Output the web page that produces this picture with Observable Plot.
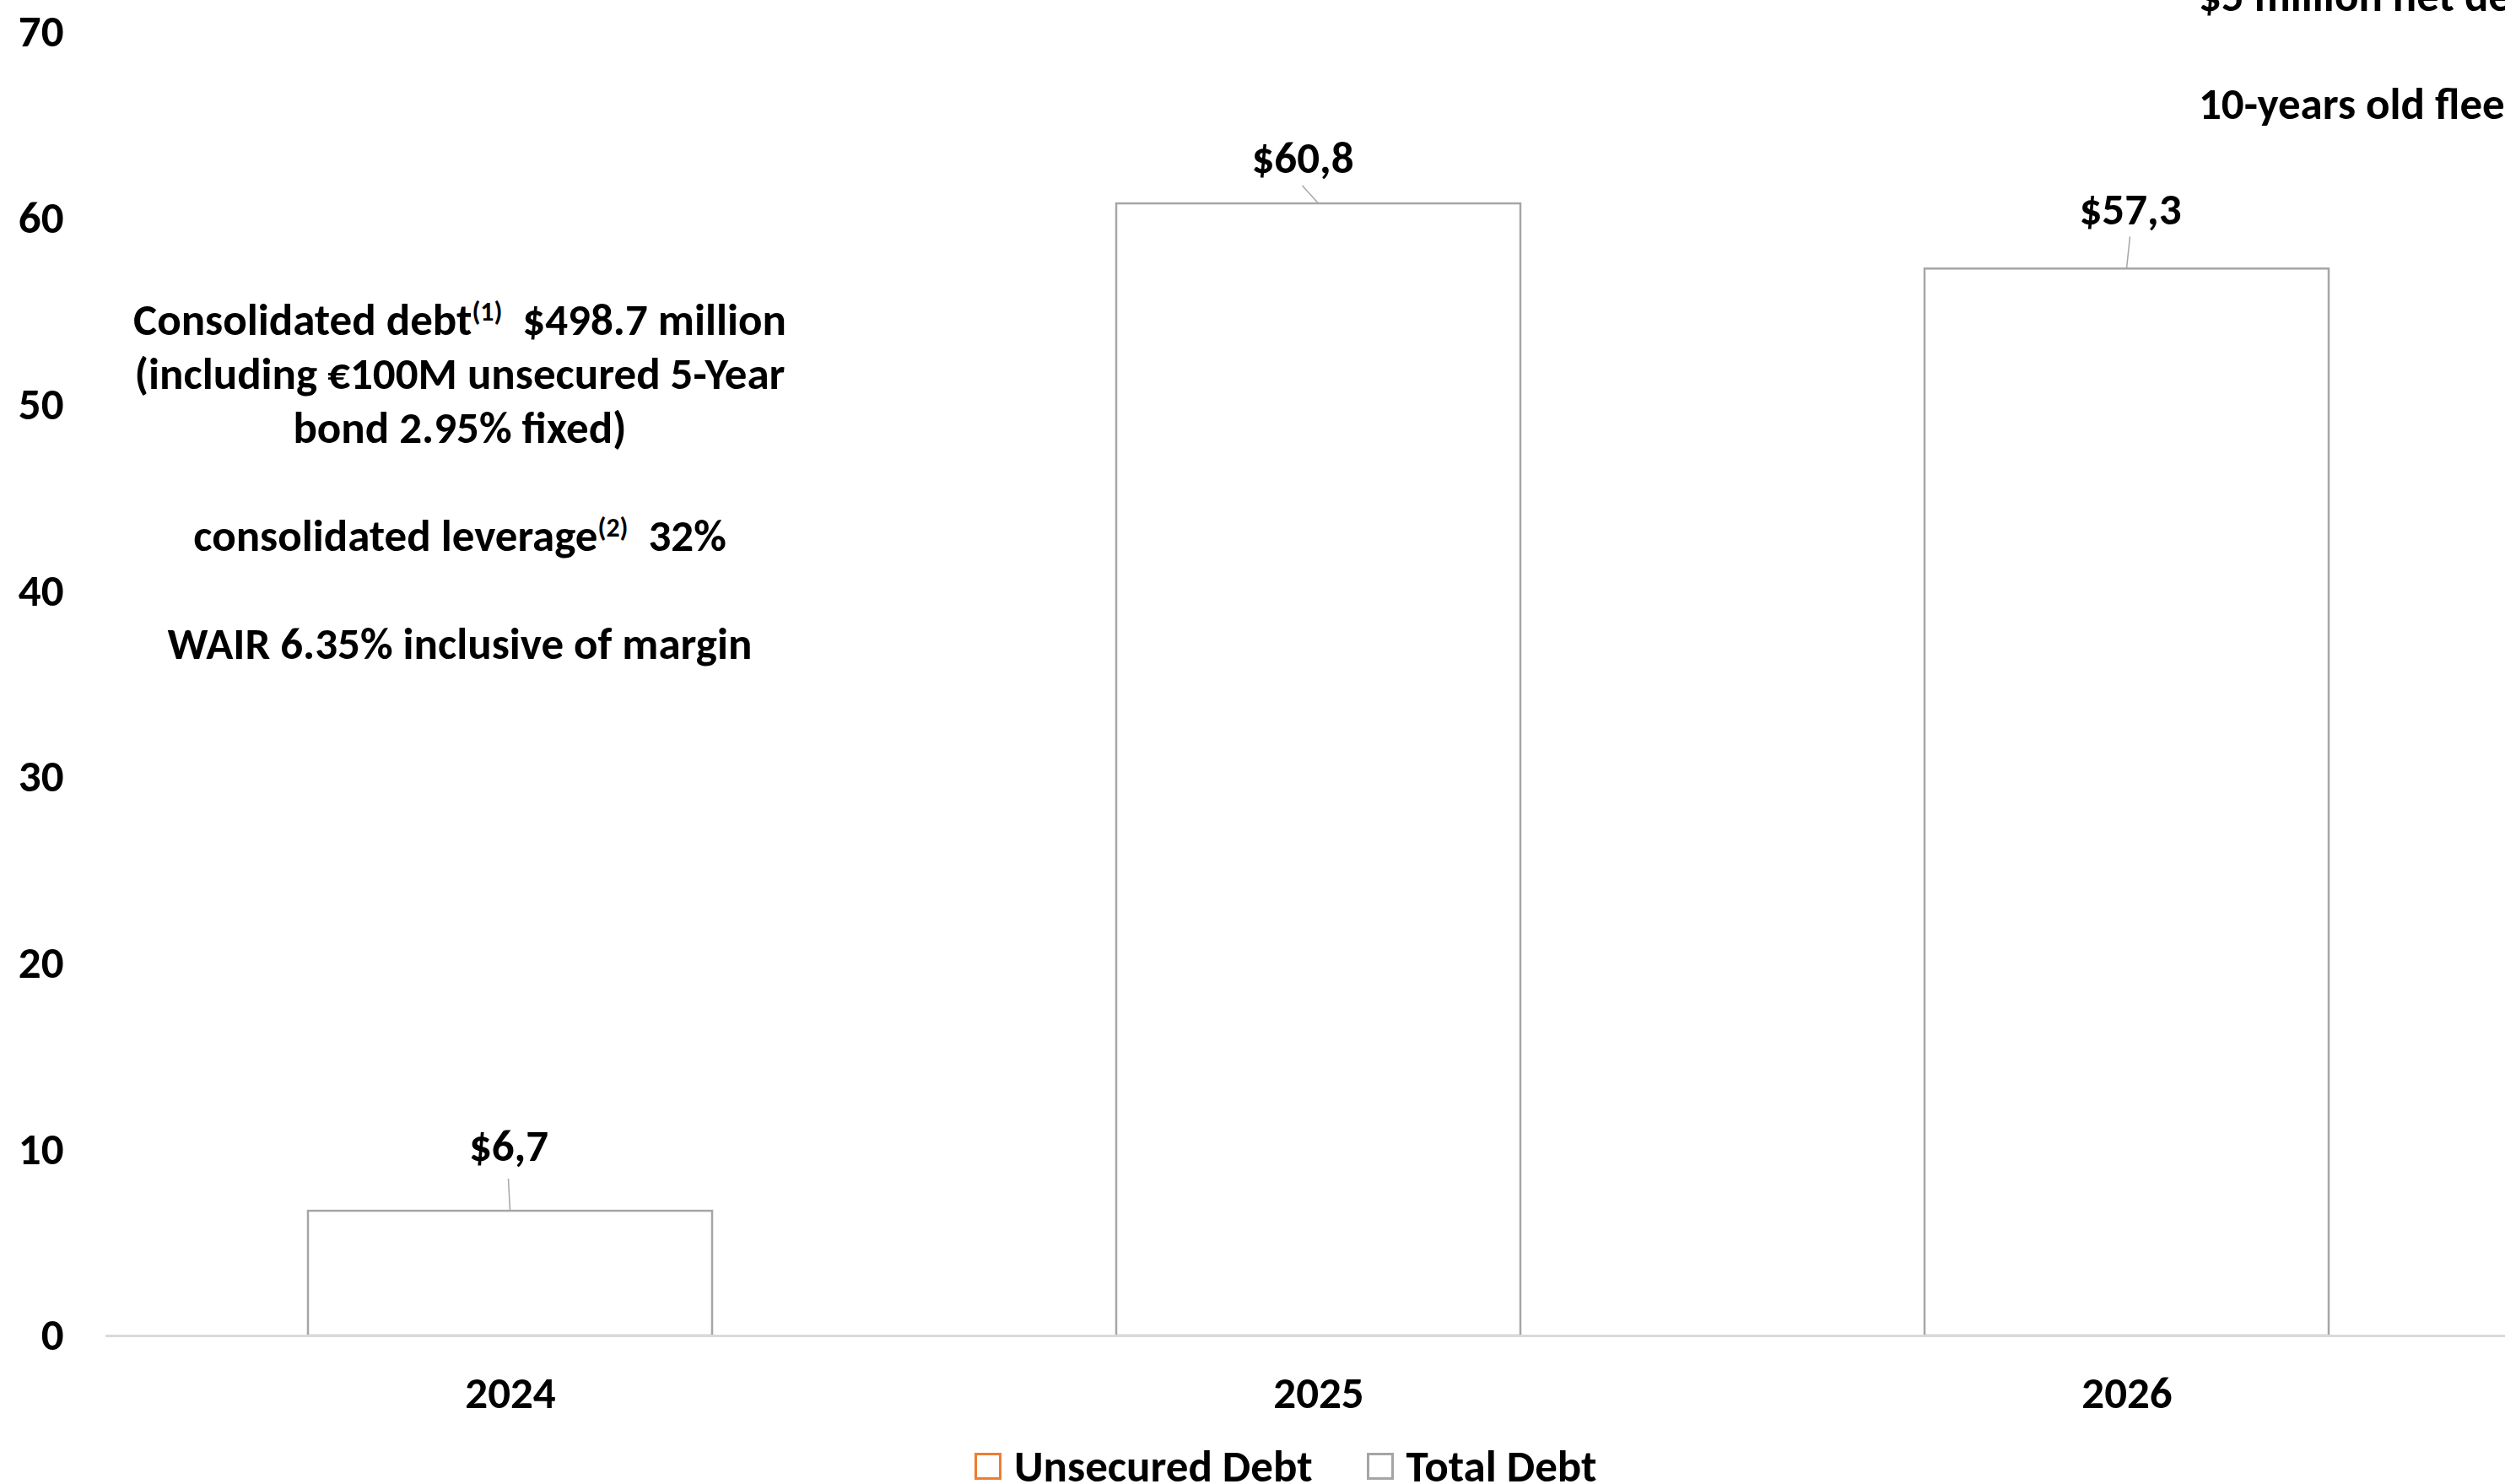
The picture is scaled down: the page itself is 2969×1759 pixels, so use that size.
<!DOCTYPE html>
<html>
<head>
<meta charset="utf-8">
<script src="https://cdn.jsdelivr.net/npm/d3@7"></script>
<script src="https://cdn.jsdelivr.net/npm/@observablehq/plot@0.6"></script>
<style>
  html, body { margin: 0; padding: 0; background: #fff; }
  body { width: 2969px; height: 1759px; overflow: hidden; position: relative;
         font-family: Carlito, Lato, "Open Sans", sans-serif; font-weight: bold; color: #000; }
  #chart { position: absolute; left: 0; top: 0; }
  .note { position: absolute; font-size: 53px; line-height: 64px; white-space: nowrap; }
  .note sup { font-size: 0.6em; line-height: 0; vertical-align: 0.55em; }
  #legend { position: absolute; left: 1155px; top: 1718px; height: 40px; display: flex; align-items: center; font-size: 53px; line-height: 40px; }
  .sw { width: 26px; height: 26px; border: 3px solid; background: #fff; margin-right: 15px; }
  .item { display: flex; align-items: center; margin-right: 64px; }
</style>
</head>
<body>
<div id="chart"></div>
<div class="note" id="leftNote" style="left:45px; width:1000px; top:347px; text-align:center;">
Consolidated debt<sup>(1)</sup>&nbsp; $498.7 million<br>(including €100M unsecured 5-Year<br>bond 2.95% fixed)<br><br>consolidated leverage<sup>(2)</sup>&nbsp; 32%<br><br>WAIR 6.35% inclusive of margin
</div>
<div class="note" id="rightNote" style="left:2606px; top:-37px; text-align:left;">
$5 million net debt per vessel<br><br>10-years old fleet
</div>
<div id="legend"></div>
<script>
// ---- data ----
const years = ["2024", "2025", "2026"];
const totalDebt = [6.7, 60.8, 57.3];
const yTicks = [0, 10, 20, 30, 40, 50, 60, 70];
const seriesNames = ["Unsecured Debt", "Total Debt"];
const seriesColors = ["#ED7D31", "#A5A5A5"];

const data = years.map((year, i) => ({year, total: totalDebt[i]}));
const fmt = v => "$" + v.toFixed(1).replace(".", ",");

// label placement (pixels relative to bar top centre)
const labelLayout = [
  {dx: -2, dy: -77, lx0: 0, lx1: -2, ly1: -38},
  {dx: -19, dy: -54, lx0: 0, lx1: -19, ly1: -21},
  {dx: 4, dy: -70, lx0: 0, lx1: 4, ly1: -38}
];

function leaders(index, scales) {
  const sx = scales.x, sy = scales.y;
  let bw = 0;
  if (typeof sx.bandwidth === "function") bw = sx.bandwidth();
  else if (scales.scales && scales.scales.x && scales.scales.x.bandwidth) bw = scales.scales.x.bandwidth;
  const g = d3.create("svg:g").attr("stroke", "#A6A6A6").attr("stroke-width", 1.5);
  data.forEach((d, i) => {
    const o = labelLayout[i];
    const cx = sx(d.year) + bw / 2, ty = sy(d.total);
    g.append("line")
      .attr("x1", cx + o.lx0).attr("y1", ty)
      .attr("x2", cx + o.lx1).attr("y2", ty + o.ly1);
  });
  return g.node();
}

const labelMarks = data.map((d, i) => Plot.text([d], {
  x: "year", y: "total", text: r => fmt(r.total),
  dx: labelLayout[i].dx, dy: labelLayout[i].dy,
  fontSize: 53, fontWeight: "bold", fill: "#000"
}));

const chart = Plot.plot({
  width: 2969,
  height: 1700,
  marginLeft: 125,
  marginRight: 0,
  marginTop: 0,
  marginBottom: 117,
  x: {type: "band", domain: years, range: [125, 2999], paddingInner: 0.5, paddingOuter: 0.25, label: null},
  y: {domain: [0, 70], range: [1583, 38], label: null},
  style: {fontFamily: "Carlito, Lato, 'Open Sans', sans-serif", fontSize: "53px", fontWeight: "bold", color: "#000", background: "#fff", overflow: "visible"},
  marks: [
    Plot.barY(data, {x: "year", y: "total", fill: "#fff", stroke: "#A6A6A6", strokeWidth: 2.5}),
    Plot.ruleY([0], {stroke: "#D9D9D9", strokeWidth: 3}),
    Plot.axisY({ticks: yTicks, tickSize: 0, tickPadding: 50, label: null, fill: "#000"}),
    Plot.axisX({tickSize: 0, tickPadding: 48, label: null, fill: "#000"}),
    leaders,
    ...labelMarks
  ]
});
document.getElementById("chart").appendChild(chart);

// legend
const legend = d3.select("#legend");
seriesNames.forEach((name, i) => {
  const it = legend.append("div").attr("class", "item");
  it.append("div").attr("class", "sw").style("border-color", seriesColors[i]);
  it.append("span").text(name);
});
</script>
</body>
</html>
